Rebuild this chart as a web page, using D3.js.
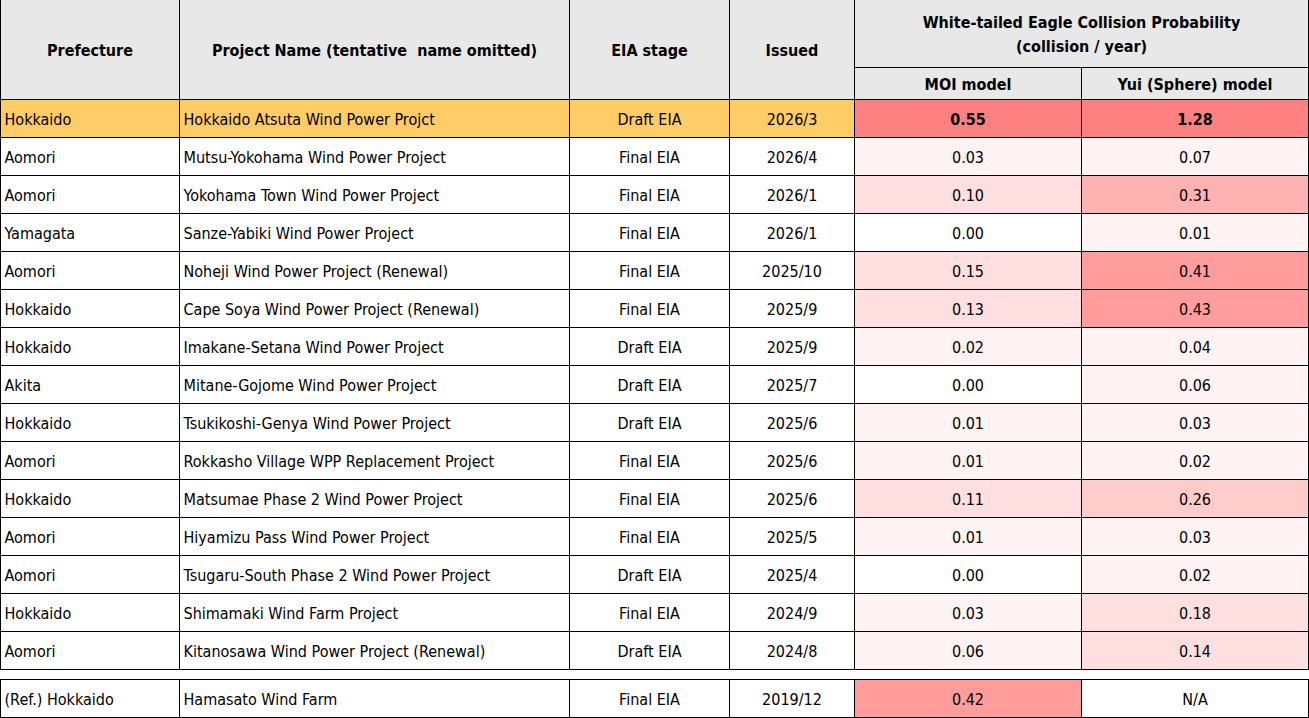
<!DOCTYPE html>
<html><head><meta charset="utf-8">
<script src="https://cdn.jsdelivr.net/npm/d3@7"></script>
<style>
html,body{margin:0;padding:0;background:#fff;}
text{font-family:"Liberation Sans Narrow","Arial Narrow","DejaVu Sans Condensed",sans-serif;fill:#000;white-space:pre;}
</style></head>
<body><svg id="c" width="1309" height="718"></svg>
<script>
const prefectures = ["Hokkaido","Aomori","Aomori","Yamagata","Aomori","Hokkaido","Hokkaido","Akita","Hokkaido","Aomori","Hokkaido","Aomori","Aomori","Hokkaido","Aomori"];
const projects = ["Hokkaido Atsuta Wind Power Projct","Mutsu-Yokohama Wind Power Project","Yokohama Town Wind Power Project","Sanze-Yabiki Wind Power Project","Noheji Wind Power Project (Renewal)","Cape Soya Wind Power Project (Renewal)","Imakane-Setana Wind Power Project","Mitane-Gojome Wind Power Project","Tsukikoshi-Genya Wind Power Project","Rokkasho Village WPP Replacement Project","Matsumae Phase 2 Wind Power Project","Hiyamizu Pass Wind Power Project","Tsugaru-South Phase 2 Wind Power Project","Shimamaki Wind Farm Project","Kitanosawa Wind Power Project (Renewal)"];
const stages = ["Draft EIA","Final EIA","Final EIA","Final EIA","Final EIA","Final EIA","Draft EIA","Draft EIA","Draft EIA","Final EIA","Final EIA","Final EIA","Draft EIA","Final EIA","Draft EIA"];
const issued = ["2026/3","2026/4","2026/1","2026/1","2025/10","2025/9","2025/9","2025/7","2025/6","2025/6","2025/6","2025/5","2025/4","2024/9","2024/8"];
const moi = [0.55,0.03,0.10,0.00,0.15,0.13,0.02,0.00,0.01,0.01,0.11,0.01,0.00,0.03,0.06];
const yui = [1.28,0.07,0.31,0.01,0.41,0.43,0.04,0.06,0.03,0.02,0.26,0.03,0.02,0.18,0.14];
const refRow = {prefecture:"(Ref.) Hokkaido", project:"Hamasato Wind Farm", stage:"Final EIA", issued:"2019/12", moi:0.42, yui:null};
const headers = ["Prefecture","Project Name (tentative  name omitted)","EIA stage","Issued"];
const groupHeader = ["White-tailed Eagle Collision Probability","(collision / year)"];
const subHeaders = ["MOI model","Yui (Sphere) model"];

const svg = d3.select("#c");
const colEdges = [0.5,179.5,569.5,729.5,854.5,1081.5,1308.5];
const headerMid = 67.5, headerBot = 99.5;
const rowH = 38;
const y = d3.scaleBand().domain(d3.range(prefectures.length)).range([headerBot, headerBot + rowH*prefectures.length]).padding(0);
const refY = 679.5;
const color = d3.scaleThreshold().domain([0.005,0.095,0.195,0.295,0.395,0.495])
  .range(["#ffffff","#fff3f3","#ffdfdf","#ffcccc","#ffb2b2","#ff9d9d","#ff8080"]);

const ink = "#000";
svg.append("rect").attr("x",0).attr("y",0).attr("width",1309).attr("height",headerBot).attr("fill","#e8e8e8");

function cellRow(g, yTop, vals, highlight){
  const base = highlight?"#ffcc66":"#fff";
  const fills = [base, base, base, base,
     vals.moi==null?"#fff":color(vals.moi), vals.yui==null?"#fff":color(vals.yui)];
  const texts = [vals.prefecture, vals.project, vals.stage, vals.issued,
     vals.moi==null?"N/A":vals.moi.toFixed(2), vals.yui==null?"N/A":vals.yui.toFixed(2)];
  for(let c=0;c<6;c++){
    g.append("rect").attr("x",colEdges[c]).attr("y",yTop).attr("width",colEdges[c+1]-colEdges[c]).attr("height",rowH)
      .attr("fill",fills[c]).attr("stroke",ink).attr("stroke-width",1);
    const left = c<2;
    g.append("text").attr("x", left? colEdges[c]+4 : (colEdges[c]+colEdges[c+1])/2)
      .attr("y", yTop + rowH/2 + 6).attr("text-anchor", left?"start":"middle")
      .attr("font-size",16).attr("font-weight", (highlight && c>=4)?"bold":"normal").text(texts[c]);
  }
}

const body = svg.append("g");
prefectures.forEach((p,i)=>{
  cellRow(body, y(i), {prefecture:p, project:projects[i], stage:stages[i], issued:issued[i], moi:moi[i], yui:yui[i]}, i===0);
});
cellRow(body, refY, refRow, false);

const hg = svg.append("g").attr("fill","none").attr("stroke",ink).attr("stroke-width",1);
for(let c=0;c<4;c++){
  hg.append("rect").attr("x",colEdges[c]).attr("y",-1).attr("width",colEdges[c+1]-colEdges[c]).attr("height",headerBot+1);
}
hg.append("rect").attr("x",colEdges[4]).attr("y",-1).attr("width",colEdges[6]-colEdges[4]).attr("height",headerMid+1);
hg.append("rect").attr("x",colEdges[4]).attr("y",headerMid).attr("width",colEdges[5]-colEdges[4]).attr("height",headerBot-headerMid);
hg.append("rect").attr("x",colEdges[5]).attr("y",headerMid).attr("width",colEdges[6]-colEdges[5]).attr("height",headerBot-headerMid);

const ht = svg.append("g").attr("font-weight","bold").attr("font-size",16).attr("text-anchor","middle");
headers.forEach((h,c)=>{
  ht.append("text").attr("x",(colEdges[c]+colEdges[c+1])/2).attr("y",56).text(h);
});
ht.append("text").attr("x",(colEdges[4]+colEdges[6])/2).attr("y",28).text(groupHeader[0]);
ht.append("text").attr("x",(colEdges[4]+colEdges[6])/2).attr("y",52).text(groupHeader[1]);
subHeaders.forEach((h,k)=>{
  ht.append("text").attr("x",(colEdges[4+k]+colEdges[5+k])/2).attr("y",90).text(h);
});
</script></body></html>
